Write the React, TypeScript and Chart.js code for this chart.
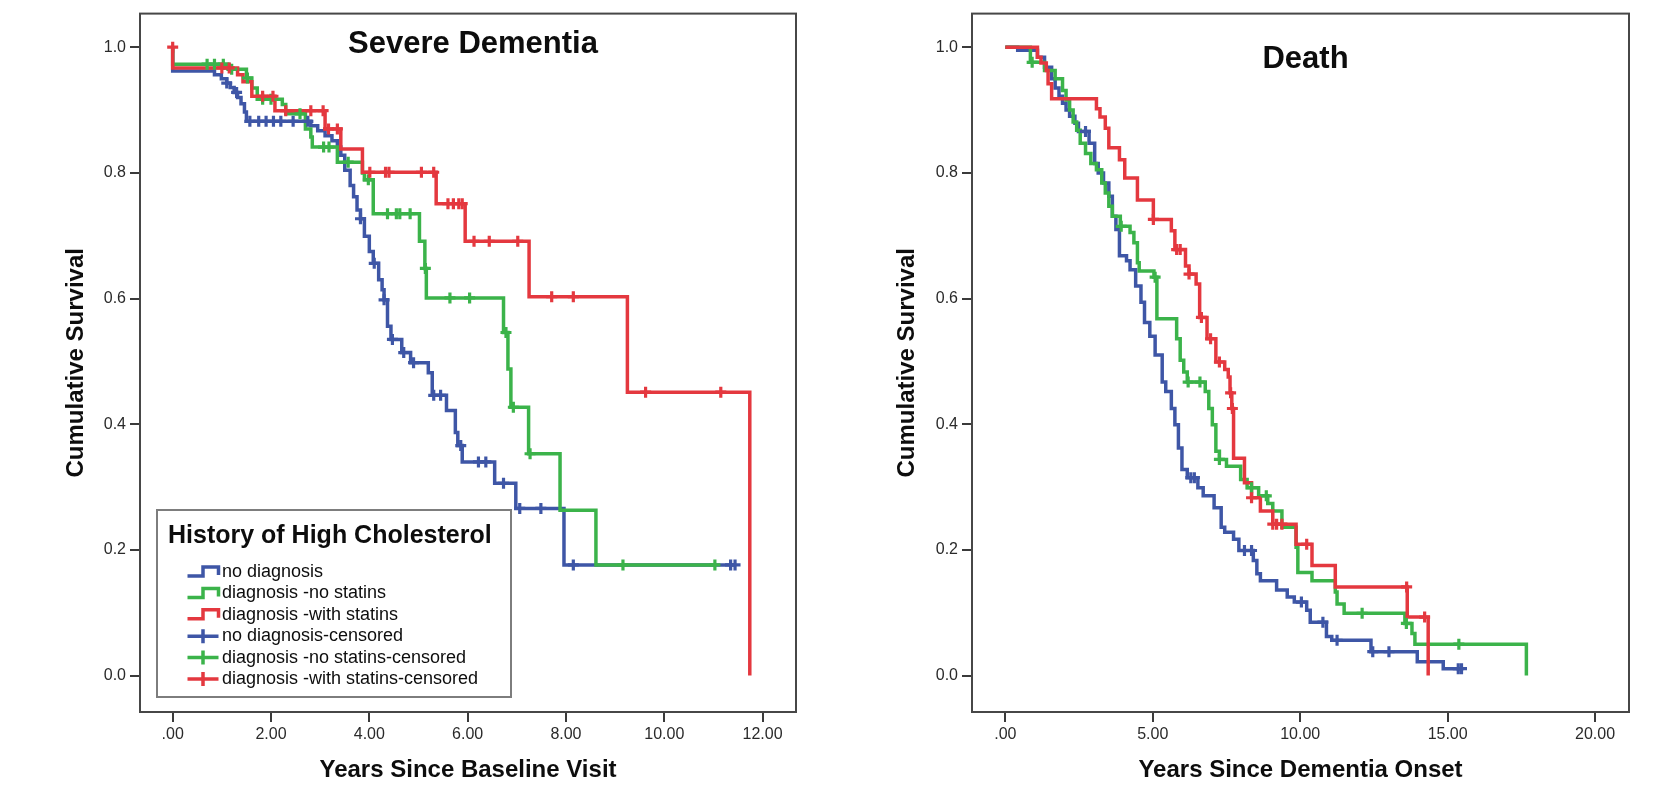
import React, { useEffect, useRef } from "react";
import { Chart, registerables } from "chart.js";

Chart.register(...registerables);

const FONT = '"Liberation Sans", Arial, Helvetica, sans-serif';
Chart.defaults.font.family = FONT;

// ---------------- Severe Dementia panel ----------------
const sdNoDxTime = [0, 0, 0.85, 0.99, 1.10, 1.17, 1.25, 1.32, 1.39, 1.46, 1.50, 2.81, 2.95, 3.10, 3.24, 3.35, 3.42, 3.50, 3.61, 3.68, 3.75, 3.82, 3.90, 4.00, 4.08, 4.19, 4.26, 4.30, 4.37, 4.44, 4.66, 4.84, 5.20, 5.28, 5.57, 5.75, 5.80, 5.89, 6.55, 6.98, 7.96, 11.44];
const sdNoDxSurv = [1.0, 0.962, 0.956, 0.950, 0.943, 0.936, 0.928, 0.920, 0.910, 0.897, 0.882, 0.875, 0.867, 0.859, 0.851, 0.841, 0.828, 0.804, 0.780, 0.762, 0.741, 0.727, 0.699, 0.675, 0.656, 0.630, 0.614, 0.598, 0.556, 0.535, 0.514, 0.498, 0.482, 0.446, 0.422, 0.387, 0.366, 0.340, 0.306, 0.266, 0.176, 0.176];
const sdNoDxCensTime = [1.10, 1.30, 1.57, 1.75, 1.90, 2.05, 2.20, 2.45, 2.75, 3.82, 4.10, 4.30, 4.47, 4.70, 4.90, 5.31, 5.45, 5.86, 6.22, 6.37, 6.73, 7.06, 7.49, 8.15, 11.35, 11.44];
const sdNoDxCensSurv = [0.943, 0.928, 0.882, 0.882, 0.882, 0.882, 0.882, 0.882, 0.882, 0.727, 0.656, 0.598, 0.535, 0.514, 0.498, 0.446, 0.446, 0.366, 0.340, 0.340, 0.306, 0.266, 0.266, 0.176, 0.176, 0.176];

const sdNoStatTime = [0, 0, 1.14, 1.50, 1.61, 1.72, 2.23, 2.30, 2.70, 2.81, 2.84, 3.35, 3.86, 3.90, 4.08, 5.02, 5.13, 5.16, 6.73, 6.82, 6.88, 7.24, 7.88, 8.61, 11.05];
const sdNoStatSurv = [1.0, 0.973, 0.965, 0.951, 0.935, 0.917, 0.909, 0.894, 0.870, 0.857, 0.841, 0.817, 0.800, 0.789, 0.735, 0.691, 0.648, 0.601, 0.546, 0.488, 0.427, 0.353, 0.263, 0.176, 0.176];
const sdNoStatCensTime = [0.70, 0.85, 1.03, 1.20, 1.52, 1.83, 2.00, 2.59, 3.07, 3.18, 3.57, 3.98, 4.37, 4.55, 4.62, 4.83, 5.14, 5.64, 6.04, 6.78, 6.93, 7.27, 9.16, 11.03];
const sdNoStatCensSurv = [0.973, 0.973, 0.973, 0.965, 0.951, 0.917, 0.917, 0.894, 0.841, 0.841, 0.817, 0.789, 0.735, 0.735, 0.735, 0.735, 0.648, 0.601, 0.601, 0.546, 0.427, 0.353, 0.176, 0.176];

const sdStatTime = [0, 0, 1.32, 1.43, 1.61, 2.08, 3.10, 3.42, 3.86, 5.36, 5.95, 7.25, 9.25, 11.74];
const sdStatSurv = [1.0, 0.967, 0.956, 0.945, 0.922, 0.899, 0.870, 0.838, 0.801, 0.751, 0.691, 0.603, 0.451, 0.0];
const sdStatCensTime = [0, 1.00, 1.15, 1.83, 2.04, 2.30, 2.81, 3.06, 3.17, 3.35, 4.01, 4.33, 4.40, 5.06, 5.31, 5.60, 5.71, 5.82, 5.89, 6.13, 6.44, 7.02, 7.71, 8.15, 9.62, 11.15];
const sdStatCensSurv = [1.0, 0.967, 0.967, 0.922, 0.922, 0.899, 0.899, 0.899, 0.870, 0.870, 0.801, 0.801, 0.801, 0.801, 0.801, 0.751, 0.751, 0.751, 0.751, 0.691, 0.691, 0.691, 0.603, 0.603, 0.451, 0.451];

// ---------------- Death panel ----------------
const deNoDxTime = [0, 0.42, 1.09, 1.33, 1.57, 1.69, 1.82, 1.94, 2.06, 2.18, 2.36, 2.48, 2.84, 3.03, 3.15, 3.33, 3.51, 3.63, 3.75, 3.87, 4.11, 4.23, 4.42, 4.60, 4.72, 4.90, 5.08, 5.32, 5.44, 5.63, 5.75, 5.87, 5.99, 6.17, 6.53, 6.71, 7.08, 7.32, 7.44, 7.74, 7.92, 8.41, 8.53, 8.65, 9.20, 9.56, 9.80, 10.22, 10.34, 10.89, 11.07, 12.40, 13.97, 14.85, 15.47];
const deNoDxSurv = [1.0, 0.995, 0.984, 0.968, 0.950, 0.935, 0.922, 0.911, 0.900, 0.890, 0.879, 0.866, 0.847, 0.815, 0.800, 0.784, 0.763, 0.731, 0.710, 0.668, 0.660, 0.646, 0.620, 0.594, 0.562, 0.540, 0.510, 0.467, 0.452, 0.425, 0.399, 0.362, 0.328, 0.315, 0.299, 0.286, 0.267, 0.236, 0.228, 0.217, 0.199, 0.183, 0.162, 0.151, 0.136, 0.125, 0.117, 0.104, 0.085, 0.062, 0.056, 0.038, 0.022, 0.011, 0.011];
const deNoDxCensTime = [2.72, 6.29, 6.41, 8.11, 8.35, 10.04, 10.77, 11.25, 12.46, 13.01, 15.36, 15.47];
const deNoDxCensSurv = [0.866, 0.315, 0.315, 0.199, 0.199, 0.117, 0.085, 0.056, 0.038, 0.038, 0.011, 0.011];

const deNoStatTime = [0, 0.85, 1.33, 1.69, 1.94, 2.06, 2.18, 2.30, 2.42, 2.54, 2.72, 2.90, 3.09, 3.27, 3.39, 3.51, 3.63, 3.90, 4.23, 4.36, 4.48, 4.54, 5.04, 5.14, 5.81, 5.93, 6.05, 6.17, 6.78, 6.90, 7.02, 7.14, 7.26, 7.50, 7.98, 8.20, 8.59, 8.90, 9.07, 9.38, 9.86, 9.92, 10.40, 11.19, 11.25, 11.49, 13.55, 13.79, 13.89, 17.67];
const deNoStatSurv = [1.0, 0.976, 0.963, 0.950, 0.931, 0.916, 0.900, 0.881, 0.868, 0.847, 0.831, 0.815, 0.805, 0.784, 0.768, 0.747, 0.731, 0.715, 0.705, 0.689, 0.657, 0.644, 0.634, 0.568, 0.536, 0.502, 0.483, 0.467, 0.452, 0.425, 0.399, 0.357, 0.344, 0.333, 0.312, 0.299, 0.286, 0.274, 0.262, 0.236, 0.204, 0.164, 0.151, 0.133, 0.114, 0.099, 0.083, 0.067, 0.050, 0.0];
const deNoStatCensTime = [0.91, 3.93, 5.08, 6.20, 6.60, 7.26, 8.35, 8.85, 12.10, 13.60, 15.38];
const deNoStatCensSurv = [0.976, 0.715, 0.634, 0.467, 0.467, 0.344, 0.299, 0.286, 0.099, 0.083, 0.050];

const deStatTime = [0, 1.09, 1.21, 1.39, 1.45, 1.57, 3.09, 3.21, 3.39, 3.51, 3.87, 4.05, 4.48, 5.02, 5.63, 5.75, 6.11, 6.23, 6.47, 6.59, 6.84, 7.14, 7.44, 7.56, 7.62, 7.68, 7.74, 8.11, 8.35, 8.65, 9.07, 9.86, 10.40, 11.19, 13.63, 14.34];
const deStatSurv = [1.0, 0.984, 0.975, 0.963, 0.942, 0.918, 0.902, 0.889, 0.871, 0.840, 0.821, 0.792, 0.757, 0.726, 0.708, 0.678, 0.652, 0.639, 0.623, 0.570, 0.536, 0.499, 0.487, 0.475, 0.450, 0.425, 0.346, 0.307, 0.283, 0.262, 0.241, 0.209, 0.175, 0.141, 0.093, 0.0];
const deStatCensTime = [5.02, 5.81, 5.93, 6.23, 6.65, 6.96, 7.26, 7.64, 7.70, 8.35, 9.07, 9.20, 9.38, 10.22, 13.61, 14.22];
const deStatCensSurv = [0.726, 0.678, 0.678, 0.639, 0.570, 0.536, 0.499, 0.450, 0.425, 0.283, 0.241, 0.241, 0.241, 0.209, 0.141, 0.093];

// ---------------- labels / ticks ----------------
const yTicks = [0, 0.2, 0.4, 0.6, 0.8, 1.0];
const yTickLabels = ["0.0", "0.2", "0.4", "0.6", "0.8", "1.0"];
const sdXTicks = [0, 2, 4, 6, 8, 10, 12];
const sdXTickLabels = [".00", "2.00", "4.00", "6.00", "8.00", "10.00", "12.00"];
const deXTicks = [0, 5, 10, 15, 20];
const deXTickLabels = [".00", "5.00", "10.00", "15.00", "20.00"];

const seriesLabels = ["no diagnosis", "diagnosis -no statins", "diagnosis -with statins"];
const censoredLabels = ["no diagnosis-censored", "diagnosis -no statins-censored", "diagnosis -with statins-censored"];
const seriesColors = ["#3e56a6", "#3bb34a", "#e4383f"];
const legendTitle = "History of High Cholesterol";

function zip(t: number[], s: number[]) {
  return t.map((x, i) => ({ x, y: s[i] }));
}

function buildDatasets(lines: number[][][], cens: number[][][]) {
  const ds: any[] = [];
  lines.forEach(([t, s], i) => {
    ds.push({
      label: seriesLabels[i],
      data: zip(t, s),
      borderColor: seriesColors[i],
      backgroundColor: seriesColors[i],
      borderWidth: 3.5,
      stepped: "before",
      pointRadius: 0,
      pointHoverRadius: 0,
      fill: false,
      order: 5 - i,
      kmKind: "step",
    });
  });
  cens.forEach(([t, s], i) => {
    ds.push({
      label: censoredLabels[i],
      data: zip(t, s),
      showLine: false,
      borderColor: seriesColors[i],
      backgroundColor: seriesColors[i],
      pointStyle: "cross",
      pointRadius: 5.5,
      pointBorderWidth: 3.2,
      pointBorderColor: seriesColors[i],
      pointBackgroundColor: seriesColors[i],
      order: 2 - i,
      kmKind: "cross",
    });
  });
  return ds;
}

const framePlugin = {
  id: "kmFrame",
  afterDraw(chart: any) {
    const { ctx, chartArea: a } = chart;
    ctx.save();
    ctx.strokeStyle = "#474747";
    ctx.lineWidth = 2;
    ctx.strokeRect(a.left, a.top, a.right - a.left, a.bottom - a.top);
    ctx.restore();
  },
};

function titlePlugin(text: string, dx: number, dy: number) {
  return {
    id: "kmTitle",
    afterDraw(chart: any) {
      const { ctx, chartArea: a } = chart;
      ctx.save();
      ctx.fillStyle = "#0d0d0d";
      ctx.font = `bold 31px ${FONT}`;
      ctx.textAlign = "center";
      ctx.textBaseline = "middle";
      ctx.fillText(text, (a.left + a.right) / 2 + dx, a.top + dy);
      ctx.restore();
    },
  };
}

const legendPlugin = {
  id: "kmLegend",
  afterDraw(chart: any) {
    const { ctx, chartArea: a } = chart;
    const w = 354;
    const h = 187;
    const x = a.left + 17;
    const y = a.bottom - 15 - h;
    ctx.save();
    ctx.fillStyle = "#ffffff";
    ctx.fillRect(x, y, w, h);
    ctx.strokeStyle = "#7d7d7d";
    ctx.lineWidth = 2;
    ctx.strokeRect(x, y, w, h);
    ctx.fillStyle = "#0d0d0d";
    ctx.textAlign = "left";
    ctx.textBaseline = "middle";
    ctx.font = `bold 25px ${FONT}`;
    ctx.fillText(legendTitle, x + 11, y + 26);
    ctx.font = `18px ${FONT}`;
    chart.data.datasets.forEach((ds: any, i: number) => {
      const cy = y + 62 + i * 21.4;
      const x0 = x + 30.5;
      const x1 = x + 61.5;
      const xm = (x0 + x1) / 2;
      ctx.strokeStyle = ds.borderColor;
      ctx.lineWidth = 3.5;
      ctx.beginPath();
      if (ds.kmKind === "step") {
        ctx.moveTo(x0, cy + 4);
        ctx.lineTo(xm, cy + 4);
        ctx.lineTo(xm, cy - 5);
        ctx.lineTo(x1, cy - 5);
        ctx.lineTo(x1, cy + 3);
      } else {
        ctx.moveTo(x0, cy);
        ctx.lineTo(x1, cy);
        ctx.moveTo(xm, cy - 7);
        ctx.lineTo(xm, cy + 7);
      }
      ctx.stroke();
      ctx.fillStyle = "#0d0d0d";
      ctx.fillText(ds.label, x + 65, cy);
    });
    ctx.restore();
  },
};

interface PanelProps {
  datasets: any[];
  xMin: number;
  xMax: number;
  xTicks: number[];
  xTickLabels: string[];
  xTitle: string;
  yAxisWidth: number;
  yTitlePad: number;
  title: string;
  titleDx: number;
  titleDy: number;
  withLegend: boolean;
}

function makeConfig(p: PanelProps): any {
  const tickFont = { family: FONT, size: 16 };
  const gridOpts = {
    display: true,
    drawOnChartArea: false,
    drawTicks: true,
    tickLength: 10,
    color: "#3a3a3a",
    lineWidth: 2,
  };
  const plugins: any[] = [framePlugin, titlePlugin(p.title, p.titleDx, p.titleDy)];
  if (p.withLegend) plugins.push(legendPlugin);
  return {
    type: "line",
    data: { datasets: p.datasets },
    options: {
      responsive: false,
      maintainAspectRatio: false,
      animation: false,
      events: [],
      layout: { padding: { top: 9, right: 38, bottom: 0, left: 0 } },
      plugins: {
        legend: { display: false },
        title: { display: false },
        tooltip: { enabled: false },
      },
      scales: {
        x: {
          type: "linear",
          min: p.xMin,
          max: p.xMax,
          afterFit: (s: any) => {
            s.height = 78;
          },
          afterBuildTicks: (s: any) => {
            s.ticks = p.xTicks.map((v) => ({ value: v }));
          },
          ticks: {
            autoSkip: false,
            maxRotation: 0,
            minRotation: 0,
            padding: 3,
            color: "#2a2a2a",
            font: tickFont,
            callback: (_v: any, i: number) => p.xTickLabels[i],
          },
          grid: gridOpts,
          border: { display: false },
          title: {
            display: true,
            text: p.xTitle,
            color: "#0d0d0d",
            font: { family: FONT, size: 24, weight: "bold" },
            padding: { top: 0, bottom: 5 },
          },
        },
        y: {
          type: "linear",
          min: -0.058,
          max: 1.0535,
          afterFit: (s: any) => {
            s.width = p.yAxisWidth;
          },
          afterBuildTicks: (s: any) => {
            s.ticks = yTicks.map((v) => ({ value: v }));
          },
          ticks: {
            autoSkip: false,
            padding: 4,
            color: "#2a2a2a",
            font: tickFont,
            callback: (_v: any, i: number) => yTickLabels[i],
          },
          grid: gridOpts,
          border: { display: false },
          title: {
            display: true,
            text: "Cumulative Survival",
            color: "#0d0d0d",
            font: { family: FONT, size: 24, weight: "bold" },
            padding: { top: p.yTitlePad, bottom: 0 },
          },
        },
      },
    },
    plugins,
  };
}

function Panel(props: PanelProps & { left: number }) {
  const ref = useRef<HTMLCanvasElement | null>(null);
  useEffect(() => {
    if (!ref.current) return;
    const chart = new Chart(ref.current, makeConfig(props));
    return () => chart.destroy();
  }, []);
  return (
    <canvas
      ref={ref}
      width={834}
      height={790}
      style={{ position: "absolute", left: props.left, top: 0, width: 834, height: 790 }}
    />
  );
}

export default function App() {
  const sdData = buildDatasets(
    [
      [sdNoDxTime, sdNoDxSurv],
      [sdNoStatTime, sdNoStatSurv],
      [sdStatTime, sdStatSurv],
    ],
    [
      [sdNoDxCensTime, sdNoDxCensSurv],
      [sdNoStatCensTime, sdNoStatCensSurv],
      [sdStatCensTime, sdStatCensSurv],
    ]
  );
  const deData = buildDatasets(
    [
      [deNoDxTime, deNoDxSurv],
      [deNoStatTime, deNoStatSurv],
      [deStatTime, deStatSurv],
    ],
    [
      [deNoDxCensTime, deNoDxCensSurv],
      [deNoStatCensTime, deNoStatCensSurv],
      [deStatCensTime, deStatCensSurv],
    ]
  );
  return (
    <div style={{ position: "absolute", left: 0, top: 0, width: 1667, height: 790, background: "#ffffff", overflow: "hidden" }}>
      <Panel
        left={0}
        datasets={sdData}
        xMin={-0.665}
        xMax={12.68}
        xTicks={sdXTicks}
        xTickLabels={sdXTickLabels}
        xTitle="Years Since Baseline Visit"
        yAxisWidth={140}
        yTitlePad={62}
        title="Severe Dementia"
        titleDx={5}
        titleDy={31}
        withLegend={true}
      />
      <Panel
        left={833}
        datasets={deData}
        xMin={-1.13}
        xMax={21.15}
        xTicks={deXTicks}
        xTickLabels={deXTickLabels}
        xTitle="Years Since Dementia Onset"
        yAxisWidth={139}
        yTitlePad={60}
        title="Death"
        titleDx={5}
        titleDy={46}
        withLegend={false}
      />
    </div>
  );
}
